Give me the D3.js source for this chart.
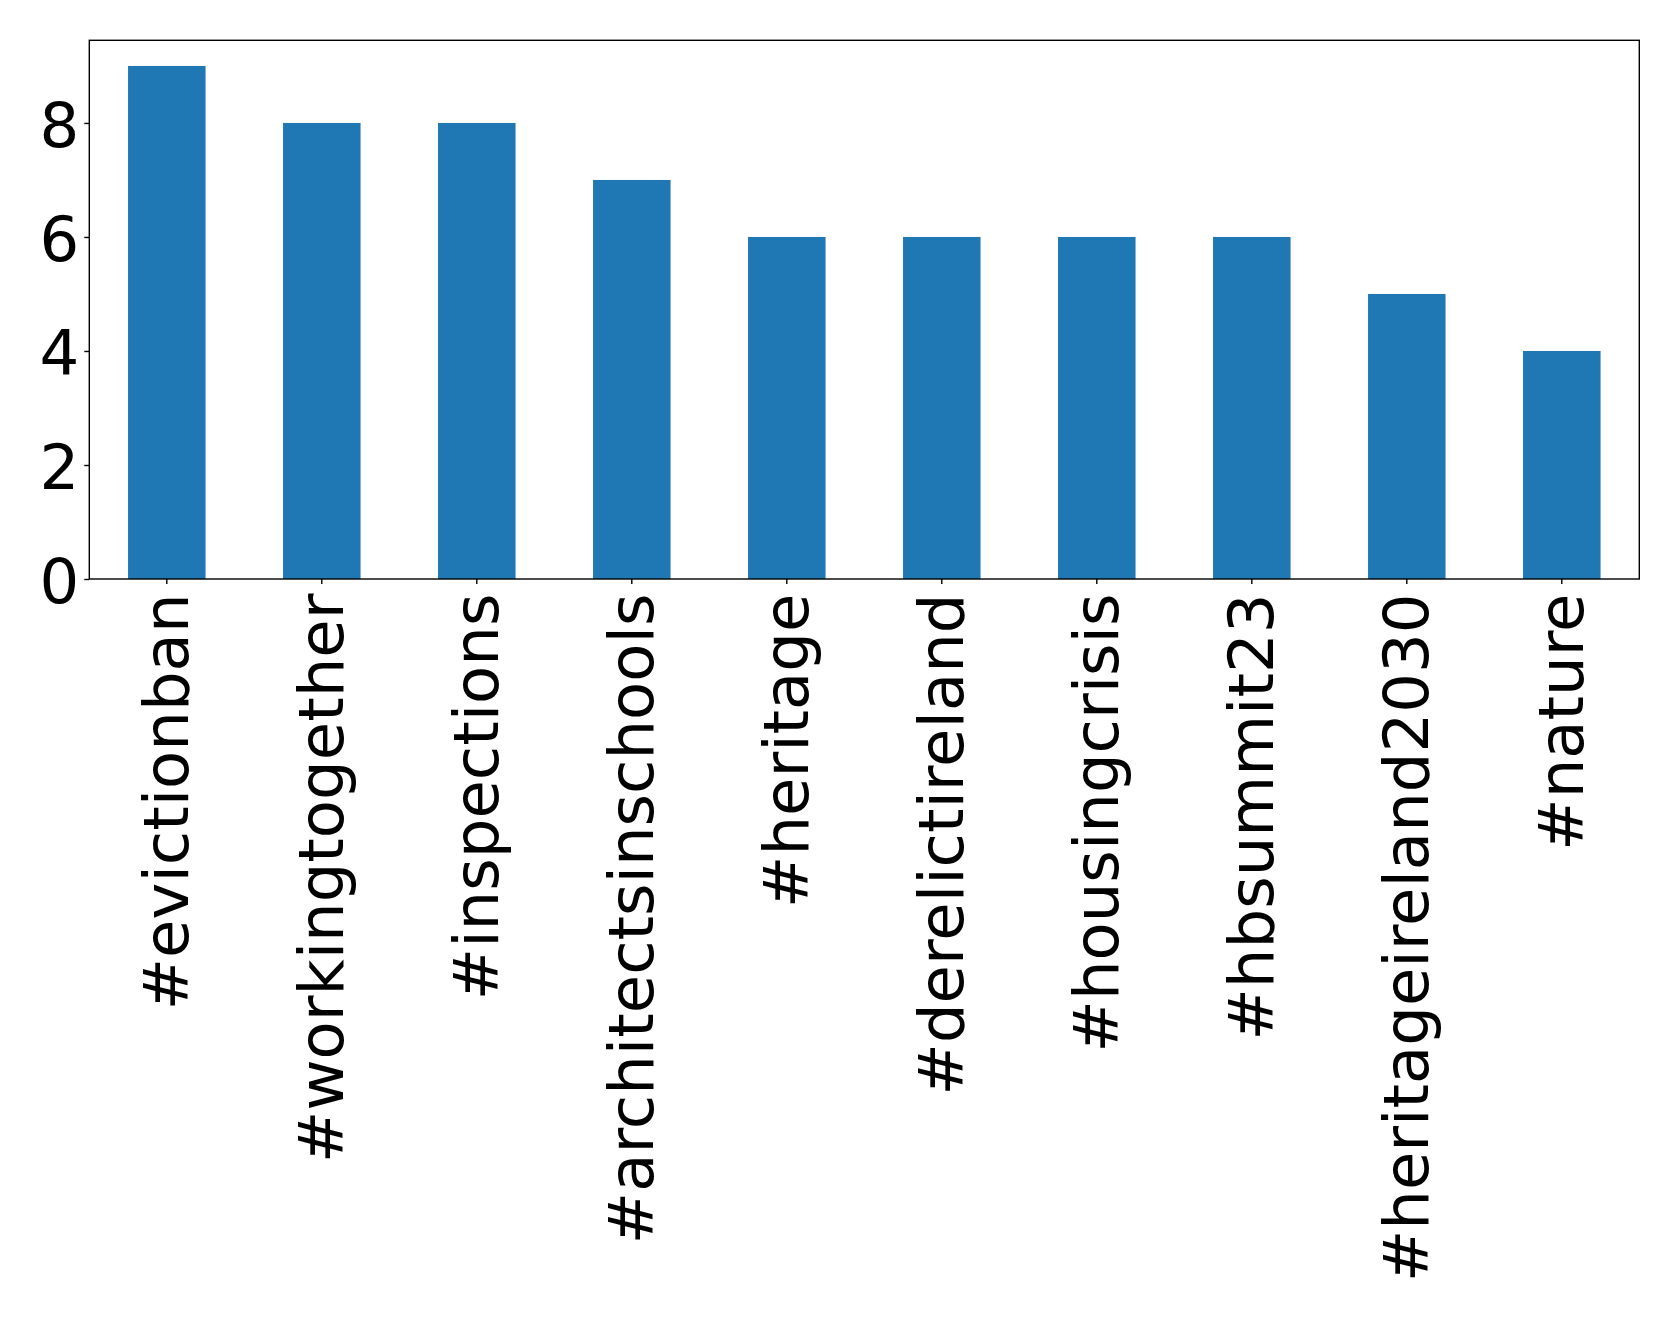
<!DOCTYPE html>
<html><head><meta charset="utf-8">
<script src="https://cdn.jsdelivr.net/npm/d3@7"></script>
<style>body{margin:0;background:#fff}svg{display:block}</style>
</head><body>
<script>
const categories = ["#evictionban","#workingtogether","#inspections","#architectsinschools","#heritage","#derelictireland","#housingcrisis","#hbsummit23","#heritageireland2030","#nature"];
const values = [9,8,8,7,6,6,6,6,5,4];
const yTicks = [0,2,4,6,8];

const W = 1679, H = 1317;
const L = 89.3, R = 1639.3, T = 40.3, B = 579;
const svg = d3.select("body").append("svg").attr("width", W).attr("height", H);

const x = d3.scaleBand().domain(categories).range([L, R]).paddingInner(0.5).paddingOuter(0.25);
const y = d3.scaleLinear().domain([0, 9.45]).range([B, T]);

svg.selectAll("rect.bar").data(values).enter().append("rect")
  .attr("class","bar")
  .attr("x",(d,i)=>x(categories[i]))
  .attr("width",x.bandwidth())
  .attr("y",d=>y(d))
  .attr("height",d=>B-y(d))
  .attr("fill","#1f77b4");

const font = "DejaVu Sans";
// y axis
const ya = svg.append("g").attr("transform",`translate(${L},0)`)
  .call(d3.axisLeft(y).tickValues(yTicks).tickSize(5).tickPadding(5).tickFormat(d3.format("d")));
ya.select(".domain").remove();
ya.selectAll(".tick line").attr("stroke","#000").attr("stroke-width",1.4);
ya.selectAll(".tick text").attr("font-family",font).attr("font-size",62.5).attr("fill","#000").attr("dy","0.38em");

// x axis
const xa = svg.append("g").attr("transform",`translate(0,${B})`)
  .call(d3.axisBottom(x).tickSize(5).tickPadding(0));
xa.select(".domain").remove();
xa.selectAll(".tick line").attr("stroke","#000").attr("stroke-width",1.4);
xa.selectAll(".tick text")
  .attr("font-family",font).attr("font-size",62.5).attr("fill","#000")
  .attr("text-anchor","end")
  .attr("transform","rotate(-90)")
  .attr("x",-14.5).attr("y",0).attr("dy","0.34em");

// frame
svg.append("rect").attr("x",L).attr("y",T).attr("width",R-L).attr("height",B-T)
  .attr("fill","none").attr("stroke","#000").attr("stroke-width",1.4);
</script>
</body></html>
